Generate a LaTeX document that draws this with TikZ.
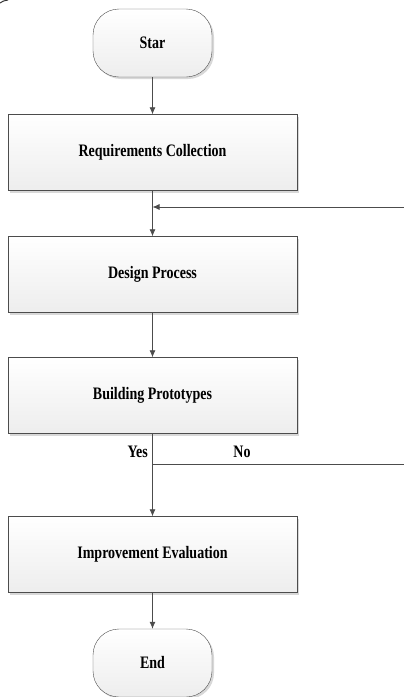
\documentclass[tikz,border=0pt]{standalone}
\usepackage{fontspec}
\setmainfont{Liberation Serif}[FakeStretch=0.8]
\usetikzlibrary{arrows.meta,shadows}

\tikzset{
  procbox/.style={draw=black!70, top color=white, bottom color=black!7,
    minimum width=289pt, minimum height=76pt,
    font=\fontsize{17.5}{20}\selectfont\bfseries,
    drop shadow={shadow xshift=2pt, shadow yshift=-2pt, fill=black!30, opacity=0.5}},
  termbox/.style={procbox, rounded corners=26pt, minimum width=119pt, minimum height=68pt},
  flow/.style={draw=black!70, line width=0.8pt, -{Latex[length=7pt,width=6pt]}},
  plainline/.style={draw=black!70, line width=0.8pt},
  lbl/.style={inner sep=0pt, font=\fontsize{17.5}{20}\selectfont\bfseries},
}

\begin{document}
\begin{tikzpicture}[x=1pt,y=-1pt]
  \useasboundingbox (0,0) rectangle (404,697);

  % Bit of a shape cut off at the corner
  \draw[black!80, line width=1pt] (0,3) .. controls (3,1) .. (8,0);

  % Draw the steps
  \node[termbox] (start) at (152.5,43) {Star};
  \node[procbox] (req) at (152.5,152.5) {Requirements Collection};
  \node[procbox] (design) at (152.5,274.5) {Design Process};
  \node[procbox] (proto) at (152.5,395.5) {Building Prototypes};
  \node[procbox] (improve) at (152.5,554.5) {Improvement Evaluation};
  \node[termbox] (stop) at (152.5,663) {End};

  % Join points on the main line
  \coordinate (merge) at (152.5,207);
  \coordinate (split) at (152.5,464);
  \coordinate (fbin) at (404,207);
  \coordinate (noout) at (404,464);

  % Draw the arrows
  \draw[flow] (start) -- (req);
  \draw[flow] (req) -- (design);
  \draw[flow] (fbin) -- (merge);
  \draw[flow] (design) -- (proto);
  \draw[flow] (proto) -- (improve);
  \draw[plainline] (split) -- (noout);
  \draw[flow] (improve) -- (stop);

  % Label the branches
  \node[lbl, anchor=east] (yes) at (148,452) {Yes};
  \node[lbl] (no) at (242,452) {No};
\end{tikzpicture}
\end{document}
